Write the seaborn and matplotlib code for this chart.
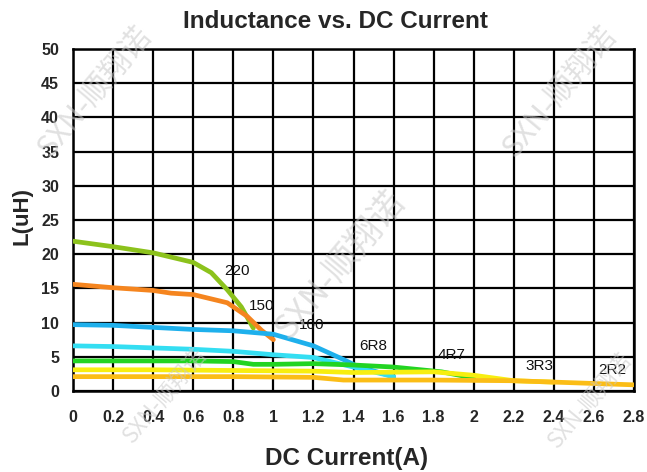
import numpy as np
import pandas as pd
import matplotlib
matplotlib.use("Agg")
import matplotlib.pyplot as plt
import seaborn as sns

# --- data (current in A, inductance in uH) ---
x_220 = [0, 0.2, 0.4, 0.6, 0.69, 0.77, 0.84, 0.90]
y_220 = [21.9, 21.1, 20.2, 18.8, 17.3, 14.8, 12.3, 9.2]

x_150 = [0, 0.2, 0.4, 0.49, 0.6, 0.77, 0.87, 0.94, 1.0]
y_150 = [15.6, 15.1, 14.7, 14.3, 14.1, 12.9, 10.9, 8.9, 7.5]

x_100 = [0, 0.2, 0.4, 0.6, 0.8, 1.0, 1.2, 1.35, 1.42, 1.6]
y_100 = [9.7, 9.6, 9.3, 9.0, 8.8, 8.3, 6.6, 4.6, 3.6, 2.1]

x_6r8 = [0, 0.2, 0.4, 0.6, 0.8, 1.0, 1.2, 1.4, 1.6]
y_6r8 = [6.6, 6.5, 6.3, 6.1, 5.8, 5.3, 4.9, 3.5, 2.1]

x_4r7 = [0, 0.2, 0.4, 0.6, 0.8, 0.9, 1.0, 1.2, 1.4, 1.6, 1.84, 2.0]
y_4r7 = [4.4, 4.4, 4.4, 4.4, 4.3, 3.9, 3.9, 4.0, 3.8, 3.5, 2.8, 1.9]

x_3r3 = [0, 0.4, 0.8, 1.2, 1.4, 1.8, 2.0, 2.2, 2.4]
y_3r3 = [3.1, 3.1, 3.0, 2.9, 2.7, 2.8, 2.3, 1.5, 1.3]

x_2r2 = [0, 0.4, 0.8, 1.2, 1.35, 1.8, 2.2, 2.4, 2.8]
y_2r2 = [2.1, 2.1, 2.1, 2.0, 1.6, 1.6, 1.5, 1.3, 0.9]

names = ["220", "150", "100", "6R8", "4R7", "3R3", "2R2"]
xs = [x_220, x_150, x_100, x_6r8, x_4r7, x_3r3, x_2r2]
ys = [y_220, y_150, y_100, y_6r8, y_4r7, y_3r3, y_2r2]
colors = ["#8cc21c", "#f5851f", "#1eb0ec", "#34def2", "#22d422", "#f7ee10", "#fbbd16"]

label_x = [0.82, 0.94, 1.19, 1.50, 1.89, 2.33, 2.69]
label_y = [17.6, 12.5, 9.6, 6.6, 5.2, 3.7, 3.1]

df = pd.concat(
    [pd.DataFrame({"I": x, "L": y, "part": n}) for n, x, y in zip(names, xs, ys)],
    ignore_index=True,
)

sns.set_style("white")
plt.rcParams["font.family"] = ["Liberation Sans", "DejaVu Sans"]

fig = plt.figure(figsize=(6.47, 4.72), dpi=100)
ax = fig.add_axes([73 / 647, 1 - 391 / 472, 561 / 647, 342 / 472])

sns.lineplot(data=df, x="I", y="L", hue="part", palette=dict(zip(names, colors)),
             linewidth=3.4, sort=False, estimator=None, legend=False, ax=ax, zorder=3)

for n, lx, ly in zip(names, label_x, label_y):
    ax.text(lx, ly, n, fontsize=11, ha="center", va="center", color="#111111", zorder=4)

ax.set_xlim(0, 2.8)
ax.set_ylim(0, 50)
ax.set_xticks(np.arange(0, 2.81, 0.2))
ax.set_xticklabels(["0", "0.2", "0.4", "0.6", "0.8", "1", "1.2", "1.4", "1.6",
                    "1.8", "2", "2.2", "2.4", "2.6", "2.8"])
ax.set_yticks(np.arange(0, 51, 5))
ax.grid(True, color="black", linewidth=1.6)
ax.set_axisbelow(True)
for s in ax.spines.values():
    s.set_color("black")
    s.set_linewidth(1.8)
ax.tick_params(axis="both", length=2, width=1.5, color="black", labelsize=11.5)
ax.tick_params(axis="y", pad=8)
ax.tick_params(axis="x", pad=12)
for t in ax.get_xticklabels() + ax.get_yticklabels():
    t.set_fontweight("bold")
ax.set_xlabel("")
ax.set_ylabel("")

fig.text(335 / 647, 1 - 22 / 472, "Inductance vs. DC Current", fontsize=17.5,
         fontweight="bold", ha="center", va="center")
fig.text(347 / 647, 1 - 458 / 472, "DC Current(A)", fontsize=17.5,
         fontweight="bold", ha="center", va="center")
fig.text(22 / 647, 1 - 216 / 472, "L(uH)", fontsize=16, fontweight="bold",
         ha="center", va="center", rotation=90)

# watermark (kept inside the canvas)
for wx, wy, fs in [(95, 92, 22), (560, 92, 22), (340, 265, 25),
                   (165, 395, 16), (590, 400, 16)]:
    fig.text(wx / 647, 1 - wy / 472, "SXN-顺翔诺", fontsize=fs, color="#c8c8c8",
             alpha=0.55, rotation=50, ha="center", va="center", zorder=10,
             family=["Noto Sans CJK SC", "DejaVu Sans"])

fig.savefig("out.png", dpi=100)
